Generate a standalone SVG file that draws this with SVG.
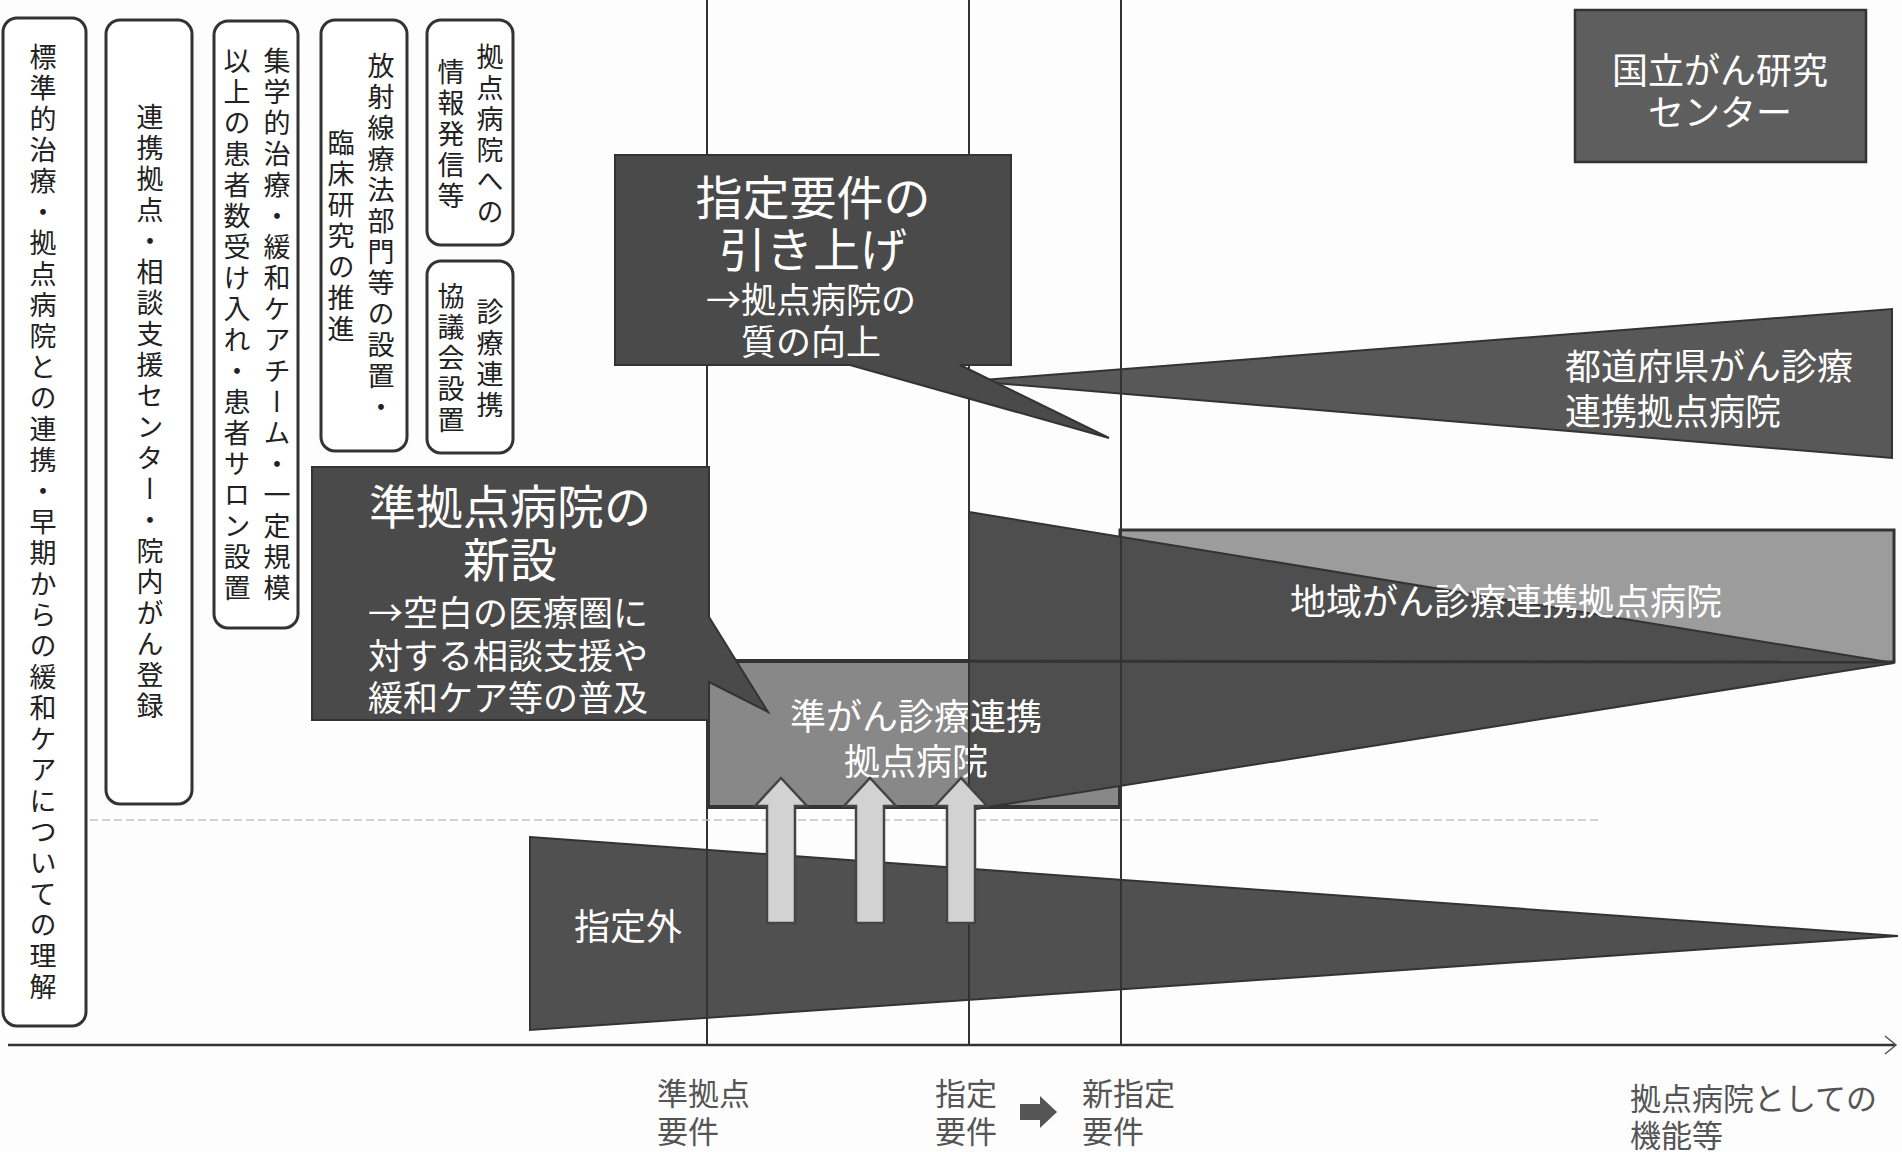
<svg xmlns="http://www.w3.org/2000/svg" width="1902" height="1152" viewBox="0 0 1902 1152">
<style>
.vt{font-family:"Noto Sans CJK JP","Noto Sans CJK SC",sans-serif;font-size:27px;letter-spacing:4px;writing-mode:vertical-rl;text-anchor:middle;fill:#222}
.rbox{fill:#fff;stroke:#333;stroke-width:3}
.wt{font-family:"Noto Sans CJK JP","Noto Sans CJK SC",sans-serif;fill:#fff;text-anchor:middle;dominant-baseline:central}
.big{font-size:47px}
.mid{font-size:35px}
.lbl{font-size:36px}
.ax{font-family:"Noto Sans CJK JP","Noto Sans CJK SC",sans-serif;font-size:31px;fill:#555;dominant-baseline:central}
.guide{stroke:#333;stroke-width:2}
.dark{fill:#4a4a4a;stroke:#333;stroke-width:2}
.up{fill:#d2d2d2;stroke:#444;stroke-width:2.5}
</style>
<rect width="1902" height="1152" fill="#fdfdfd"/>

<!-- left rounded boxes -->
<g id="box-standard">
<rect class="rbox" x="3" y="18" width="83" height="1008" rx="14"/>
<text class="vt" x="43" y="524">標準的治療・拠点病院との連携・早期からの緩和ケアについての理解</text>
</g>
<g id="box-renkei">
<rect class="rbox" x="106" y="20" width="86" height="784" rx="14"/>
<text class="vt" x="150" y="413">連携拠点・相談支援センター・院内がん登録</text>
</g>
<g id="box-shugaku">
<rect class="rbox" x="214" y="21" width="84" height="607" rx="14"/>
<text class="vt" x="277" y="326">集学的治療・緩和ケアチーム・一定規模</text>
<text class="vt" x="237" y="326">以上の患者数受け入れ・患者サロン設置</text>
</g>
<g id="box-hoshasen">
<rect class="rbox" x="321" y="20" width="86" height="431" rx="14"/>
<text class="vt" x="381" y="238">放射線療法部門等の設置・</text>
<text class="vt" x="341" y="238">臨床研究の推進</text>
</g>
<g id="box-joho">
<rect class="rbox" x="427" y="20" width="86" height="225" rx="14"/>
<text class="vt" x="490" y="136">拠点病院への</text>
<text class="vt" x="451" y="136">情報発信等</text>
</g>
<g id="box-kyogikai">
<rect class="rbox" x="427" y="261" width="86" height="192" rx="14"/>
<text class="vt" x="490" y="360">診療連携</text>
<text class="vt" x="451" y="360">協議会設置</text>
</g>

<!-- bands -->
<g id="chiiki-light">
<rect x="1120" y="530" width="774" height="132" fill="#9c9c9c" stroke="#333" stroke-width="3"/>
</g>
<g id="todofuken">
<polygon points="970,381 1892,309 1892,458" fill="#585858" stroke="#333" stroke-width="2"/>
<text class="wt lbl" x="1565" y="364" style="text-anchor:start">都道府県がん診療</text>
<text class="wt lbl" x="1565" y="409" style="text-anchor:start">連携拠点病院</text>
</g>
<g id="jun-gan">
<rect x="708" y="661" width="412" height="146" fill="#888" stroke="#333" stroke-width="4"/>
</g>
<g id="chiiki-dark">
<polygon points="969,512 1894,663 969,810" fill="#4e4e4e" stroke="#333" stroke-width="2"/>
</g>
<g id="shiteigai">
<polygon points="530,837 1898,936 530,1030" fill="#505050" stroke="#333" stroke-width="2"/>
<text class="wt lbl" x="628" y="924">指定外</text>
</g>
<line x1="708" y1="661" x2="1894" y2="662" stroke="#333" stroke-width="3"/>
<text class="wt lbl" x="1506" y="599">地域がん診療連携拠点病院</text>
<text class="wt lbl" x="916" y="714">準がん診療連携</text>
<text class="wt lbl" x="916" y="759">拠点病院</text>

<!-- guide lines -->
<g id="guides">
<line class="guide" x1="707" y1="0" x2="707" y2="1045"/>
<line class="guide" x1="969" y1="0" x2="969" y2="1045"/>
<line class="guide" x1="1121" y1="0" x2="1121" y2="1045"/>
</g>
<line x1="90" y1="820" x2="1600" y2="820" stroke="#c4c4c4" stroke-width="1.5" stroke-dasharray="8 4"/>

<!-- connectors -->
<g id="connectors">
<polygon class="up" points="767,923 767,806 755,806 781,778 807,806 795,806 795,923"/>
<polygon class="up" points="856,923 856,806 844,806 870,778 896,806 884,806 884,923"/>
<polygon class="up" points="947,923 947,806 935,806 961,778 987,806 975,806 975,923"/>
<line x1="8" y1="1045" x2="1895" y2="1045" stroke="#333" stroke-width="2.5"/>
<polyline points="1885,1036 1896,1045 1885,1054" fill="none" stroke="#555" stroke-width="1.5"/>
<polygon points="1020,1104 1040,1104 1040,1096 1057,1112 1040,1128 1040,1120 1020,1120" fill="#555"/>
</g>

<!-- callouts -->
<g id="callout-shitei">
<polygon class="dark" points="615,155 1011,155 1011,365 960,365 1109,438 850,365 615,365"/>
<text class="wt big" x="813" y="194">指定要件の</text>
<text class="wt big" x="813" y="246">引き上げ</text>
<text class="wt mid" x="811" y="297">→拠点病院の</text>
<text class="wt mid" x="811" y="339">質の向上</text>
</g>
<g id="callout-jun">
<polygon class="dark" points="312,467 709,467 709,617 768,712 709,682 709,720 312,720"/>
<text class="wt big" x="510" y="503">準拠点病院の</text>
<text class="wt big" x="510" y="556">新設</text>
<text class="wt mid" x="508" y="610">→空白の医療圏に</text>
<text class="wt mid" x="508" y="653">対する相談支援や</text>
<text class="wt mid" x="508" y="695">緩和ケア等の普及</text>
</g>
<g id="ncc">
<rect x="1575" y="10" width="291" height="152" fill="#5e5e5e" stroke="#333" stroke-width="2.5"/>
<text class="wt lbl" x="1720" y="68">国立がん研究</text>
<text class="wt lbl" x="1720" y="110">センター</text>
</g>

<!-- axis labels -->
<g id="axis-labels">
<text class="ax" x="657" y="1091">準拠点</text>
<text class="ax" x="657" y="1129">要件</text>
<text class="ax" x="935" y="1091">指定</text>
<text class="ax" x="935" y="1129">要件</text>
<text class="ax" x="1082" y="1091">新指定</text>
<text class="ax" x="1082" y="1129">要件</text>
<text class="ax" x="1630" y="1096">拠点病院としての</text>
<text class="ax" x="1630" y="1133">機能等</text>
</g>
</svg>
